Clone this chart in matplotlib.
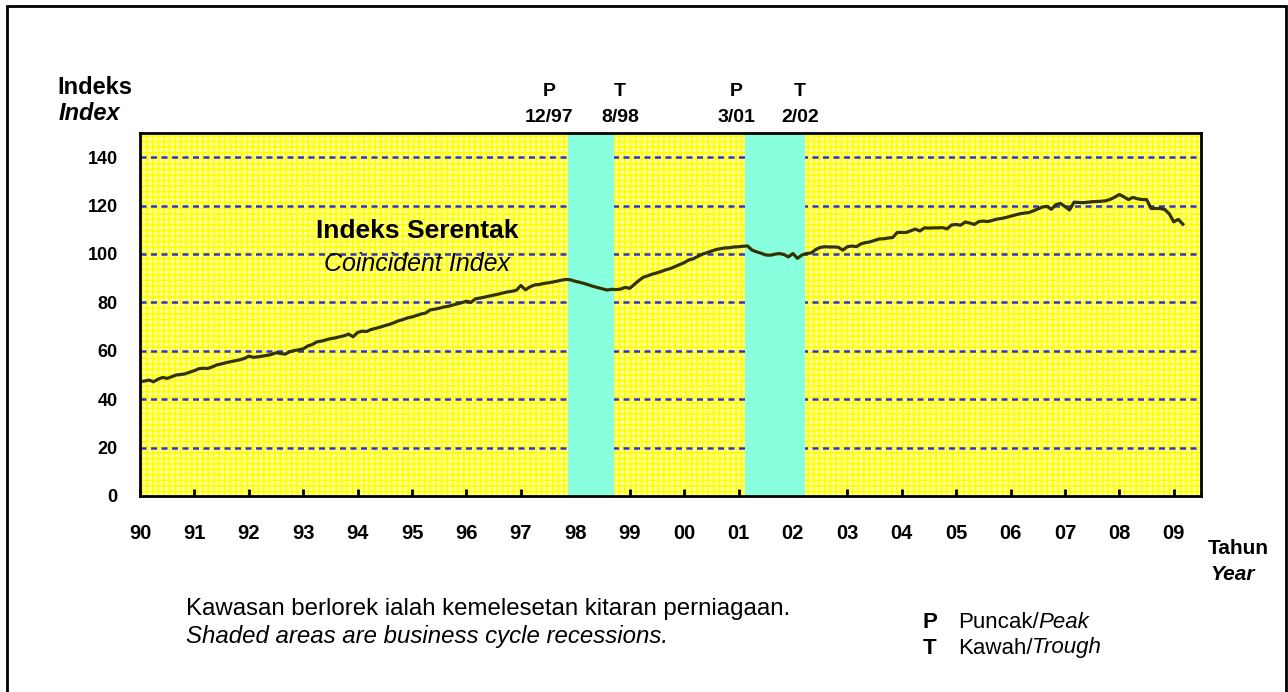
import matplotlib
matplotlib.use('Agg')
import matplotlib.pyplot as plt
import matplotlib.patches as patches
import numpy as np

plt.rcParams['font.family'] = ['Liberation Sans', 'DejaVu Sans']

# Monthly coincident index, Jan 1990 - Mar 2009
idx_1990 = [47.2, 47.5, 47.9, 47.2, 48.3, 49.0, 48.6, 49.3, 50.0, 50.2, 50.5, 51.2]
idx_1991 = [51.8, 52.6, 52.8, 52.7, 53.4, 54.2, 54.6, 55.1, 55.5, 55.9, 56.3, 56.8]
idx_1992 = [57.8, 57.3, 57.5, 57.8, 58.1, 58.5, 59.2, 58.9, 58.6, 59.6, 60.1, 60.4]
idx_1993 = [60.8, 62.0, 62.6, 63.7, 64.0, 64.5, 65.0, 65.3, 65.8, 66.2, 66.9, 65.8]
idx_1994 = [67.6, 68.1, 68.0, 68.8, 69.3, 69.8, 70.4, 70.9, 71.6, 72.4, 72.9, 73.6]
idx_1995 = [74.0, 74.6, 75.2, 75.6, 76.9, 77.2, 77.6, 78.1, 78.4, 78.9, 79.4, 79.9]
idx_1996 = [80.5, 80.0, 81.5, 81.8, 82.2, 82.6, 83.0, 83.4, 83.9, 84.3, 84.6, 85.0]
idx_1997 = [87.0, 85.2, 86.4, 87.2, 87.4, 87.8, 88.1, 88.4, 88.8, 89.2, 89.5, 89.3]
idx_1998 = [88.7, 88.3, 87.8, 87.2, 86.6, 86.1, 85.6, 85.1, 85.4, 85.3, 85.5, 86.2]
idx_1999 = [85.8, 87.4, 89.0, 90.4, 91.0, 91.7, 92.2, 92.8, 93.5, 94.0, 94.8, 95.6]
idx_2000 = [96.4, 97.5, 98.0, 99.0, 99.9, 100.5, 101.2, 101.8, 102.2, 102.5, 102.6, 102.9]
idx_2001 = [103.0, 103.2, 103.3, 101.6, 100.9, 100.3, 99.6, 99.5, 99.9, 100.2, 99.8, 98.8]
idx_2002 = [100.2, 98.2, 99.6, 100.2, 100.4, 101.8, 102.7, 103.0, 102.9, 102.9, 102.8, 101.6]
idx_2003 = [103.0, 103.3, 103.0, 104.2, 104.7, 105.0, 105.6, 106.2, 106.3, 106.6, 106.8, 108.9]
idx_2004 = [108.9, 108.9, 109.6, 110.3, 109.5, 110.8, 110.7, 110.8, 110.8, 110.9, 110.4, 112.0]
idx_2005 = [112.2, 111.9, 113.2, 112.8, 112.2, 113.4, 113.6, 113.4, 113.9, 114.4, 114.7, 115.1]
idx_2006 = [115.6, 116.1, 116.6, 116.9, 117.1, 117.8, 118.6, 119.4, 119.7, 118.5, 120.4, 120.9]
idx_2007 = [119.6, 118.2, 121.4, 121.3, 121.2, 121.4, 121.6, 121.7, 121.8, 122.0, 122.6, 123.5]
idx_2008 = [124.6, 123.6, 122.5, 123.4, 122.8, 122.5, 122.5, 118.8, 118.8, 118.8, 118.4, 116.6]
idx_2009 = [113.3, 114.3, 112.3]

values = (idx_1990 + idx_1991 + idx_1992 + idx_1993 + idx_1994 + idx_1995 + idx_1996
          + idx_1997 + idx_1998 + idx_1999 + idx_2000 + idx_2001 + idx_2002 + idx_2003
          + idx_2004 + idx_2005 + idx_2006 + idx_2007 + idx_2008 + idx_2009)
months = 1990 + np.arange(len(values)) / 12.0

years = list(range(1990, 2010))
year_labels = ['90', '91', '92', '93', '94', '95', '96', '97', '98', '99',
               '00', '01', '02', '03', '04', '05', '06', '07', '08', '09']
y_ticks = [0, 20, 40, 60, 80, 100, 120, 140]

# recession spans (start, end) and their peak / trough labels
recessions = [(1997.875, 1998.71), (2001.12, 2002.22)]
turn_points = [('P', '12/97'), ('T', '8/98'), ('P', '3/01'), ('T', '2/02')]
turn_px = [549, 620, 736, 800]

W, H = 1288, 692
fig = plt.figure(figsize=(W / 100, H / 100), dpi=100)

def fx(px):
    return px / W

def fy(py):
    return 1 - py / H

ax = fig.add_axes([fx(140), fy(496), fx(1201) - fx(140), fy(133) - fy(496)])
ax.set_xlim(1990, 2009.5)
ax.set_ylim(0, 150)

# yellow patterned background
plt.rcParams['hatch.linewidth'] = 1.2
bg = patches.Rectangle((0, 0), 1, 1, transform=ax.transAxes, facecolor='#FFFFA0',
                       edgecolor='#FFFF00', hatch='+++', linewidth=0, zorder=0)
ax.add_patch(bg)

for y in y_ticks[1:]:
    ax.axhline(y, color='#3333CC', lw=1.8, dashes=(2.4, 1.8), zorder=1)

for start, end in recessions:
    ax.axvspan(start, end, facecolor='#88FFDD', edgecolor='none', zorder=2)

ax.plot(months, values, color='#333300', lw=2.3, zorder=3)

for s in ax.spines.values():
    s.set_linewidth(2)
    s.set_color('black')
    s.set_zorder(5)

ax.set_xticks(years)
ax.set_xticklabels(year_labels, fontsize=14.5, fontweight='bold')
ax.tick_params(axis='x', direction='in', length=5, width=2, pad=20)
ax.set_yticks(y_ticks)
ax.set_yticklabels([str(v) for v in y_ticks], fontsize=13, fontweight='bold')
ax.tick_params(axis='y', length=0, pad=16)

for px, (top, bottom) in zip(turn_px, turn_points):
    fig.text(fx(px), fy(92), top, ha='center', va='center', fontsize=14, fontweight='bold')
    fig.text(fx(px), fy(117), bottom, ha='center', va='center', fontsize=14, fontweight='bold')

fig.text(fx(57), fy(87), 'Indeks', ha='left', va='center', fontsize=17, fontweight='bold')
fig.text(fx(59), fy(114), 'Index', ha='left', va='center', fontsize=17,
         fontweight='bold', style='italic')

fig.text(fx(417), fy(231), 'Indeks Serentak', ha='center', va='center', fontsize=19,
         fontweight='bold')
fig.text(fx(417), fy(264), 'Coincident Index', ha='center', va='center', fontsize=18,
         style='italic')

fig.text(fx(1208), fy(549), 'Tahun', ha='left', va='center', fontsize=15, fontweight='bold')
fig.text(fx(1210), fy(575), 'Year', ha='left', va='center', fontsize=15,
         fontweight='bold', style='italic')

fig.text(fx(186), fy(609), 'Kawasan berlorek ialah kemelesetan kitaran perniagaan.',
         ha='left', va='center', fontsize=17.3)
fig.text(fx(186), fy(636), 'Shaded areas are business cycle recessions.',
         ha='left', va='center', fontsize=17.3, style='italic')

fig.text(fx(923), fy(622), 'P', ha='left', va='center', fontsize=16, fontweight='bold')
t1 = fig.text(fx(958), fy(622), 'Puncak/', ha='left', va='center', fontsize=16)
fig.text(fx(923), fy(648), 'T', ha='left', va='center', fontsize=16, fontweight='bold')
t2 = fig.text(fx(958), fy(648), 'Kawah/', ha='left', va='center', fontsize=16)
fig.canvas.draw()
r = fig.canvas.get_renderer()
for t, word in [(t1, 'Peak'), (t2, 'Trough')]:
    bb = t.get_window_extent(r)
    fig.text(bb.x1 / W, t.get_position()[1], word, ha='left', va='center',
             fontsize=16, style='italic')

# outer frame
fig.patches.append(patches.Rectangle((fx(7), -0.02), fx(1286) - fx(7), fy(6) + 0.02,
                                     transform=fig.transFigure, fill=False,
                                     edgecolor='black', lw=2))

fig.savefig('out.png', dpi=100)
